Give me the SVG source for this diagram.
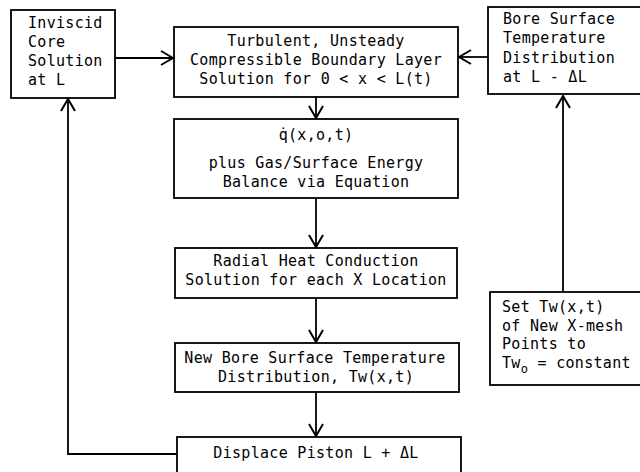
<svg xmlns="http://www.w3.org/2000/svg" width="640" height="472" viewBox="0 0 640 472">
<defs>
<marker id="ah" viewBox="0 0 14 16" refX="13" refY="8" markerWidth="14" markerHeight="16" markerUnits="userSpaceOnUse" orient="auto">
<path d="M1,1 L13,8 L1,15" fill="none" stroke="#000" stroke-width="2"/>
</marker>
<style>
.box{fill:#fff;stroke:#000;stroke-width:1.8}
.t{font-family:"DejaVu Sans Mono","Liberation Mono",monospace;font-size:15px;letter-spacing:0.3px;fill:#000}
.c{text-anchor:middle}
.ln{fill:none;stroke:#000;stroke-width:1.8}
</style>
</defs>
<rect width="640" height="472" fill="#fff"/>
<g id="connectors">
<path class="ln" d="M115,58 L173,58" marker-end="url(#ah)"/>
<path class="ln" d="M488,57 L459,57" marker-end="url(#ah)"/>
<path class="ln" d="M316,97 L316,118" marker-end="url(#ah)"/>
<path class="ln" d="M316,198 L316,247" marker-end="url(#ah)"/>
<path class="ln" d="M316,298 L316,342" marker-end="url(#ah)"/>
<path class="ln" d="M316,392 L316,436" marker-end="url(#ah)"/>
<path class="ln" d="M177,454 L68,454 L68,99" marker-end="url(#ah)"/>
<path class="ln" d="M563,292 L563,96" marker-end="url(#ah)"/>
</g>
<g id="inviscid">
<rect class="box" x="11" y="10" width="104" height="88"/>
<text class="t" x="28" y="28">Inviscid</text>
<text class="t" x="28" y="47">Core</text>
<text class="t" x="28" y="66">Solution</text>
<text class="t" x="28" y="85">at L</text>
</g>
<g id="turbulent">
<rect class="box" x="174" y="27" width="284" height="70"/>
<text class="t c" x="316" y="46">Turbulent, Unsteady</text>
<text class="t c" x="316" y="65">Compressible Boundary Layer</text>
<text class="t c" x="316" y="84">Solution for 0 &lt; x &lt; L(t)</text>
</g>
<g id="bore">
<rect class="box" x="488" y="7" width="160" height="87"/>
<text class="t" x="503" y="24">Bore Surface</text>
<text class="t" x="503" y="43">Temperature</text>
<text class="t" x="503" y="63">Distribution</text>
<text class="t" x="503" y="82">at L - ΔL</text>
</g>
<g id="qdot">
<rect class="box" x="174" y="119" width="284" height="79"/>
<text class="t c" x="316" y="140">q̇(x,o,t)</text>
<text class="t c" x="316" y="168">plus Gas/Surface Energy</text>
<text class="t c" x="316" y="187">Balance via Equation</text>
</g>
<g id="radial">
<rect class="box" x="175" y="248" width="282" height="50"/>
<text class="t c" x="316" y="266">Radial Heat Conduction</text>
<text class="t c" x="316" y="285">Solution for each X Location</text>
</g>
<g id="newbore">
<rect class="box" x="175" y="343" width="284" height="49"/>
<text class="t c" x="315" y="363">New Bore Surface Temperature</text>
<text class="t c" x="316" y="382">Distribution, Tw(x,t)</text>
</g>
<g id="displace">
<rect class="box" x="177" y="437" width="284" height="40"/>
<text class="t c" x="316" y="458">Displace Piston L + ΔL</text>
</g>
<g id="settw">
<rect class="box" x="490" y="292" width="160" height="93"/>
<text class="t" x="502" y="312">Set Tw(x,t)</text>
<text class="t" x="502" y="331">of New X-mesh</text>
<text class="t" x="502" y="349">Points to</text>
<text class="t" x="502" y="368">Tw<tspan dy="5" font-size="12">o</tspan><tspan dy="-5"> = constant</tspan></text>
</g>
</svg>
